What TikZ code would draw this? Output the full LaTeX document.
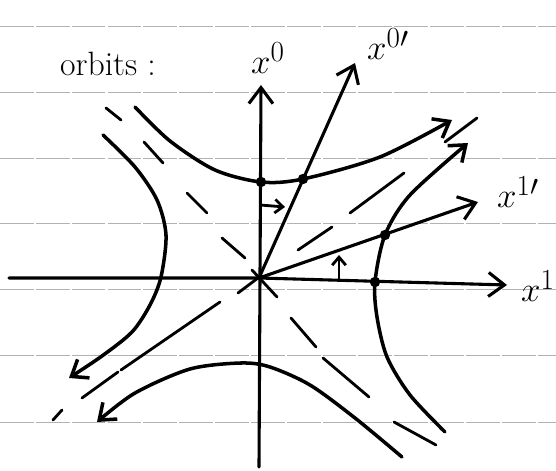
\documentclass[tikz,border=0pt]{standalone}
\usetikzlibrary{arrows.meta}

\begin{document}
\begin{tikzpicture}[x=0.25mm, y=-0.25mm,
        paper/.style={draw=black!30, line width=0.5pt, dash pattern=on 24pt off 1.5pt},
        axis/.style={line width=2.2pt, line cap=round, -{Straight Barb[length=4mm,width=6mm]}},
        orbit/.style={line width=2.5pt, line cap=round, -{Straight Barb[length=3.6mm,width=5.5mm]}},
        cone/.style={line width=2pt, line cap=round},
        small/.style={line width=2pt, -{Straight Barb[length=2mm,width=3.4mm]}},
        dot/.style={circle, fill=black, inner sep=0pt, minimum size=2.6mm},
        lbl/.style={font=\fontsize{28}{32}\selectfont},
        txt/.style={font=\fontsize{24}{28}\selectfont}
      ]
        \useasboundingbox (0,0) rectangle (556,471);
        \foreach \y in {26,92,158,223,289,355,422}
          \draw[paper] (0,\y) -- (556,\y);

        \coordinate (o)   at (259,278);
        \coordinate (xl)  at (9,278);
        \coordinate (xr)  at (507,285);
        \coordinate (tb)  at (259,467);
        \coordinate (tt)  at (261,85);
        \coordinate (tp)  at (355,63);
        \coordinate (sp)  at (478,202);

        \draw[axis] (xl) -- (o) -- (xr);
        \draw[axis] (tb) -- (tt);
        \draw[axis] (o) -- (tp);
        \draw[axis] (o) -- (sp);

        \foreach \a/\b in {{(53,420)}/{(62,410)}, {(82,398)}/{(118,372)}, {(121,370)}/{(220,302)},
                           {(238,293)}/{(258,278)}, {(298,250)}/{(332,227)}, {(350,213)}/{(404,173)},
                           {(445,142)}/{(477,118)},
                           {(106,108)}/{(121,120)}, {(144,142)}/{(163,163)}, {(187,193)}/{(207,213)},
                           {(222,238)}/{(245,258)}, {(252,270)}/{(277,297)}, {(291,318)}/{(316,347)},
                           {(323,358)}/{(369,397)}, {(394,422)}/{(436,445)}}
          \draw[cone] \a -- \b;

        \draw[orbit] plot[smooth] coordinates {(135,107) (170,141) (215,170) (261,182)
                                               (303,179) (380,157) (452,120)};
        \draw[orbit] plot[smooth] coordinates {(445,432) (410,395) (387,357) (377,317) (375,282)
                                               (385,235) (410,195) (468,143)};
        \draw[orbit] plot[smooth] coordinates {(103,135) (135,167) (157,200) (166,235) (161,277)
                                               (150,305) (132,332) (102,356) (69,378)};
        \draw[orbit] plot[smooth] coordinates {(402,457) (355,418) (310,385) (270,367) (241,363)
                                               (190,369) (135,393) (97,422)};

        \node[dot] (d0)  at (261,182) {};
        \node[dot] (d0p) at (303,179) {};
        \node[dot] (d1p) at (385,235) {};
        \node[dot] (d1)  at (375,282) {};

        \coordinate (ra) at (260,205);
        \coordinate (rb) at (285,207);
        \coordinate (ua) at (339,282);
        \coordinate (ub) at (339,255);
        \draw[small] (ra) -- (rb);
        \draw[small] (ua) -- (ub);

        \node[txt] (orb) at (108,64) {orbits :};
        \node[lbl] (l0)  at (268,58) {$x^0$};
        \node[lbl] (l0p) at (388,44) {$x^{0\prime}$};
        \node[lbl] (l1p) at (518,192) {$x^{1\prime}$};
        \node[lbl] (l1)  at (538,286) {$x^1$};
      \end{tikzpicture}
\end{document}
